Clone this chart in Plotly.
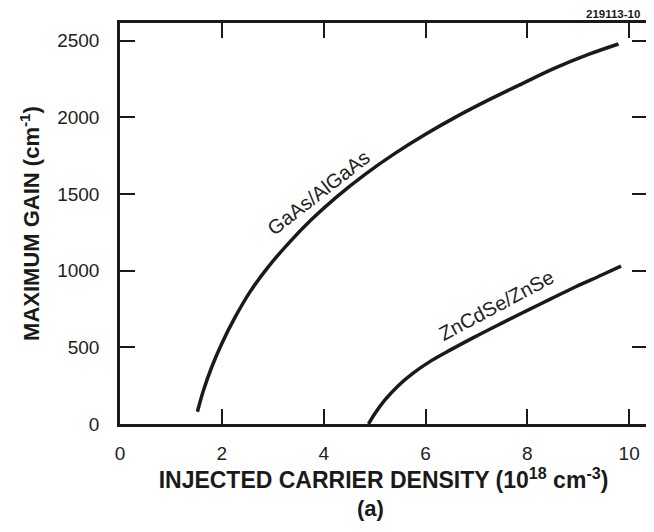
import plotly.graph_objects as go

# GaAs/AlGaAs curve (x: 1e18 cm^-3, y: cm^-1)
gaas_x = [1.52, 1.64, 1.80, 2.00, 2.25, 2.55, 2.90, 3.30, 3.75, 4.25, 4.80, 5.40, 6.00, 6.60, 7.25, 7.90, 8.55, 9.20, 9.79]
gaas_y = [80, 220, 370, 525, 690, 860, 1020, 1175, 1330, 1480, 1625, 1765, 1890, 2003, 2115, 2220, 2322, 2410, 2478]

# ZnCdSe/ZnSe curve
znse_x = [4.88, 5.00, 5.20, 5.45, 5.75, 6.10, 6.50, 6.95, 7.45, 7.95, 8.45, 8.95, 9.45, 9.84]
znse_y = [0, 65, 155, 245, 330, 410, 485, 565, 650, 733, 814, 895, 970, 1030]

x_ticks = [0, 2, 4, 6, 8, 10]
y_ticks = [0, 500, 1000, 1500, 2000, 2500]

FONT = "Liberation Sans, Arial, Helvetica, sans-serif"
INK = "#1a1a1a"

fig = go.Figure()
for xs, ys in ((gaas_x, gaas_y), (znse_x, znse_y)):
    fig.add_trace(go.Scatter(x=xs, y=ys, mode="lines",
                             line=dict(color=INK, width=3.5, shape="spline", smoothing=1.0),
                             showlegend=False, hoverinfo="skip"))

axis_common = dict(showline=True, linecolor=INK, linewidth=2.5, mirror="ticks",
                   ticks="inside", ticklen=15, tickwidth=2, tickcolor=INK,
                   showgrid=False, zeroline=False, automargin=False,
                   tickfont=dict(family=FONT, size=19, color="#222"))

fig.update_xaxes(range=[0, 10.35], tickvals=x_ticks, ticklabelstandoff=10,
                 title=dict(text="<b>INJECTED CARRIER DENSITY (10<sup>18</sup> cm<sup>-3</sup>)</b>",
                            font=dict(family=FONT, size=23, color=INK), standoff=5),
                 **axis_common)
fig.update_yaxes(range=[0, 2615], tickvals=y_ticks, ticklabelstandoff=14,
                 title=dict(text="<b>MAXIMUM GAIN (cm<sup>-1</sup>)</b>",
                            font=dict(family=FONT, size=22, color=INK), standoff=12),
                 **axis_common)

fig.add_annotation(x=3.89, y=1506, xref="x", yref="y", text="GaAs/AlGaAs",
                   textangle=-38, showarrow=False,
                   font=dict(family=FONT, size=20, color="#222"))
fig.add_annotation(x=7.40, y=775, xref="x", yref="y", text="ZnCdSe/ZnSe",
                   textangle=-28, showarrow=False,
                   font=dict(family=FONT, size=20, color="#222"))

# page body has an 8px margin: size the figure so the plot lands where the reference has it
OFF = 8
W, H = 654 - OFF, 532 - 2 * OFF
L, T = 120 - OFF, 23 - OFF
R = W - (647 - OFF)
B = H - (424 - OFF)
pw, ph = W - L - R, H - T - B


def px(xp):
    return (xp - OFF - L) / pw


def py(yp):
    return (H - B - (yp - OFF)) / ph


fig.add_annotation(x=px(642), y=py(14), xref="paper", yref="paper",
                   text="<b>219113-10</b>", showarrow=False, xanchor="right", yanchor="middle",
                   font=dict(family=FONT, size=11.5, color=INK))
fig.add_annotation(x=px(370), y=py(508), xref="paper", yref="paper",
                   text="<b>(a)</b>", showarrow=False, xanchor="center", yanchor="middle",
                   font=dict(family=FONT, size=22, color=INK))

fig.update_layout(width=W, height=H, margin=dict(l=L, r=R, t=T, b=B),
                  plot_bgcolor="white", paper_bgcolor="white")

fig.write_html("out.html")
